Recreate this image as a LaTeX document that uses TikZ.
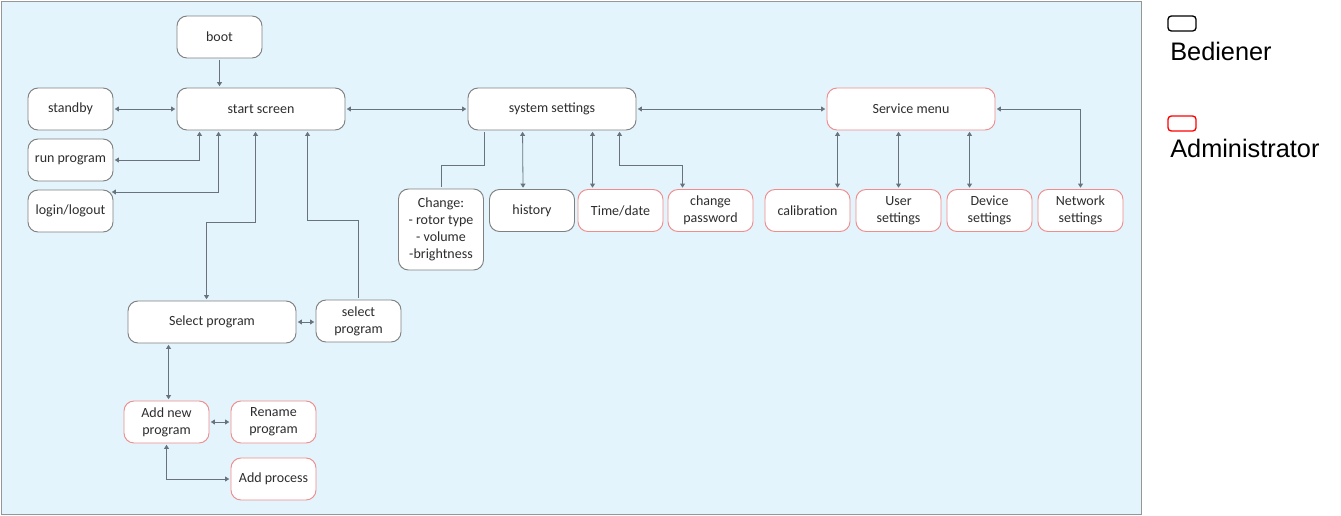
\documentclass[tikz,border=0pt]{standalone}
\usepackage{xcolor}
\usepackage{fontspec}
\setmainfont{Carlito}
\newfontfamily\legendfont{Liberation Sans}
\usepackage{tikz}
\usetikzlibrary{arrows.meta,calc}

\definecolor{bgblue}{RGB}{227,244,252}
\definecolor{framegray}{RGB}{150,150,150}
\definecolor{boxgray}{RGB}{128,128,128}
\definecolor{boxred}{RGB}{240,140,140}
\definecolor{linegray}{RGB}{105,115,125}
\definecolor{textgray}{RGB}{45,45,45}

\begin{document}
\begin{tikzpicture}[x=0.75pt,y=0.75pt,yscale=-1,xscale=1,
  user/.style={draw=boxgray,fill=white,line width=0.7pt,rounded corners=7.5pt,
    minimum width=63.75pt,minimum height=31.5pt,inner sep=1pt,align=center,
    text=textgray,font=\fontsize{10.5}{12.6}\selectfont},
  admin/.style={user,draw=boxred},
  wide/.style={minimum width=126pt},
  link/.style={draw=linegray,line width=0.6pt,>={Triangle[length=3pt,width=3.6pt]},
    shorten <=1pt,shorten >=1pt},
  legendtext/.style={anchor=base west,inner sep=0pt,font=\legendfont\fontsize{19}{22}\selectfont}]

% background
\useasboundingbox (0,0) rectangle (1341,515);
\fill[bgblue,draw=framegray,line width=0.75pt] (1,1) rectangle (1141,514);

% main row
\node[user] (boot) at (219.5,37) {boot};
\node[user,wide] (start) at (261,109) {start screen};
\node[user] (standby) at (70.5,109) {standby};
\node[user] (run) at (70.5,160) {run program};
\node[user] (login) at (70.5,211) {login/logout};
\node[user,wide] (sys) at (552,109) {system settings};
\node[admin,wide] (serv) at (911,109) {Service menu};

% system settings entries
\node[user,minimum height=60.75pt] (change) at (441,229.5) {Change:\\- rotor type\\- volume\\-brightness};
\node[user] (hist) at (532,210.5) {history};
\node[admin] (time) at (620.5,210.5) {Time/date};
\node[admin] (pw) at (710.5,210.5) {change\\password};

% service entries
\node[admin] (calib) at (807.5,210.5) {calibration};
\node[admin] (usr) at (898.5,210.5) {User\\settings};
\node[admin] (dev) at (989.5,210.5) {Device\\settings};
\node[admin] (net) at (1080.5,210.5) {Network\\settings};

% programs
\node[user,wide] (selprog) at (212,322) {Select program};
\node[user] (selsmall) at (358.5,321) {select\\program};
\node[admin] (addnew) at (166.5,422) {Add new\\program};
\node[admin] (rename) at (273.5,422) {Rename\\program};
\node[admin] (addproc) at (273.5,479) {Add process};

% connectors
\draw[link,->] (boot.south) -- (boot.south |- start.north);
\draw[link,<->] (standby) -- (start);
\draw[link,<->] ($(start.south west)+(23,0)$) |- (run.east);
\draw[link,<->] ($(start.south west)+(42,0)$) |- ($(login.east)+(-3,-19)$);
\draw[link,<->] ($(start.south west)+(79,0)$) -- ++(0,92) -| ($(selprog.north west)+(79,0)$);
\draw[link,<-] ($(start.south west)+(131,0)$) -- ++(0,90) -| (selsmall.north);
\draw[link,<->] (start) -- (sys);
\draw[link,<->] (sys) -- (serv);

\draw[link] ($(sys.south west)+(17,0)$) -- ++(0,35) -| (change.north);
\draw[link,<->] ($(sys.south west)+(55,0)$) -- ($(hist.north west)+(34,0)$);
\draw[link,<->] ($(sys.south west)+(125,0)$) -- ($(time.north west)+(15,0)$);
\draw[link,<->] ($(sys.south west)+(152,0)$) -- ++(0,35) -| ($(pw.north west)+(15,0)$);

\draw[link,<->] ($(serv.south west)+(11,0)$) -- ($(calib.north west)+(73,0)$);
\draw[link,<->] ($(serv.south west)+(72,0)$) -- ($(usr.north west)+(43,0)$);
\draw[link,<->] ($(serv.south west)+(143,0)$) -- ($(dev.north west)+(23,0)$);
\draw[link,<->] (serv.east) -| (net.north);

\draw[link,<->] (selprog.east) -- (selprog.east -| selsmall.west);
\draw[link,<->] ($(selprog.south west)+(41,0)$) -- ($(addnew.north west)+(45,0)$);
\draw[link,<->] (addnew) -- (rename);
\draw[link,<->] (addnew.south) |- (addproc.west);

% legend
\draw[black,line width=1pt,rounded corners=2.5pt] (1168,16) rectangle (1196,31);
\node[legendtext] (bediener) at (1170,60) {Bediener};
\draw[red,line width=1pt,rounded corners=2.5pt] (1168,116) rectangle (1196,131);
\node[legendtext] (administrator) at (1170,157) {Administrator};

\end{tikzpicture}
\end{document}
